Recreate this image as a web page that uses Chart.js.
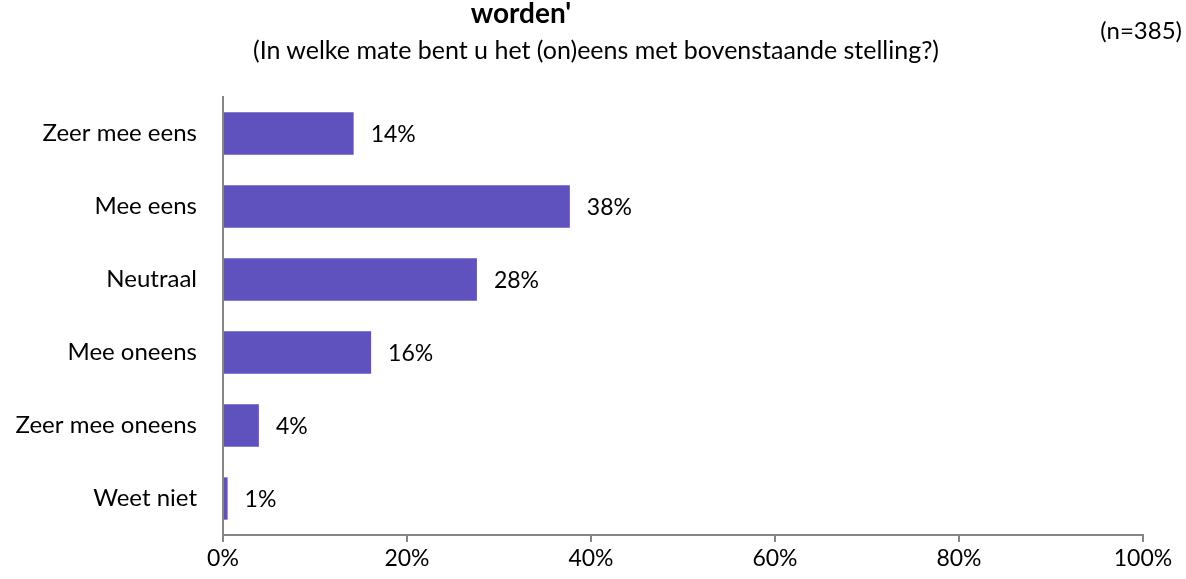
<!DOCTYPE html>
<html lang="nl">

<head>
  <meta charset="UTF-8">
  <title>Stelling (n=385)</title>
  <script src="https://cdn.jsdelivr.net/npm/chart.js"></script>
  <style>
    body { margin: 0; background: #fff; }
    #wrap { position: relative; width: 1186px; height: 579px; overflow: hidden; }
    .tekst {
      position: absolute; font-family: Lato, "Open Sans", sans-serif; color: #000; white-space: nowrap;
    }
    #titel {
      left: 521px; top: -3px; transform: translateX(-50%);
      font-size: 28px; line-height: 30px; font-weight: bold;
    }
    #ondertitel {
      left: 596px; top: 34px; transform: translateX(-50%);
      font-size: 25px; line-height: 30px;
    }
    #aantal {
      right: 4px; top: 15px; font-size: 24px; line-height: 30px;
    }
  </style>
</head>

<body>
  <div id="wrap">
    <canvas id="barChart" width="1186" height="579"></canvas>
    <div class="tekst" id="titel">worden'</div>
    <div class="tekst" id="ondertitel">(In welke mate bent u het (on)eens met bovenstaande stelling?)</div>
    <div class="tekst" id="aantal">(n=385)</div>
  </div>

<script>
  // categorieen en percentages
  const categorieen = ['Zeer mee eens', 'Mee eens', 'Neutraal', 'Mee oneens', 'Zeer mee oneens', 'Weet niet'];
  const percentages = [14.2, 37.7, 27.6, 16.1, 3.9, 0.5];
  const labelsWaarde = ['14%', '38%', '28%', '16%', '4%', '1%'];
  const tickWaarden = [0, 20, 40, 60, 80, 100];

  const fonte = 'Lato, "Open Sans", sans-serif';
  const grijs = '#868686';

  // plugin om de percentages naast de balken te zetten
  const labelsPlugin = {
    id: 'labelsWaarde',
    afterDatasetsDraw(chart) {
      const ctx = chart.ctx;
      const meta = chart.getDatasetMeta(0);
      ctx.save();
      ctx.font = '23px ' + fonte;
      ctx.fillStyle = '#000';
      ctx.textAlign = 'left';
      ctx.textBaseline = 'middle';
      meta.data.forEach(function (bar, i) {
        ctx.fillText(labelsWaarde[i], bar.x + 17, bar.y + 1);
      });
      ctx.restore();
    }
  };

  const config = {
    type: 'bar',
    data: {
      labels: categorieen,
      datasets: [{
        data: percentages,
        backgroundColor: '#5F52BE',
        borderWidth: 0,
        categoryPercentage: 1,
        barPercentage: 0.58
      }]
    },
    options: {
      indexAxis: 'y',
      responsive: false,
      animation: false,
      // bovenaan ruimte voor de titels (die staan in html)
      layout: { padding: { left: 0, right: 43, top: 97, bottom: 0 } },
      plugins: {
        legend: { display: false },
        tooltip: { enabled: false },
        title: { display: false }
      },
      scales: {
        x: {
          min: 0,
          max: 100,
          afterBuildTicks: function (s) { s.ticks = tickWaarden.map(v => ({ value: v })); },
          afterFit: function (s) { s.height = 44; },
          ticks: {
            color: '#000',
            font: { family: fonte, size: 23 },
            padding: 3,
            maxRotation: 0,
            callback: v => v + '%'
          },
          grid: { drawOnChartArea: false, drawTicks: true, tickLength: 7, color: grijs, lineWidth: 2 },
          border: { color: grijs, width: 2 }
        },
        y: {
          afterFit: function (s) { s.width = 223; },
          ticks: {
            color: '#000',
            font: { family: fonte, size: 24 },
            padding: 26
          },
          grid: { drawOnChartArea: false, drawTicks: false },
          border: { color: grijs, width: 2 }
        }
      }
    },
    plugins: [labelsPlugin]
  };

  new Chart(document.getElementById('barChart'), config);
</script>
</body>

</html>
